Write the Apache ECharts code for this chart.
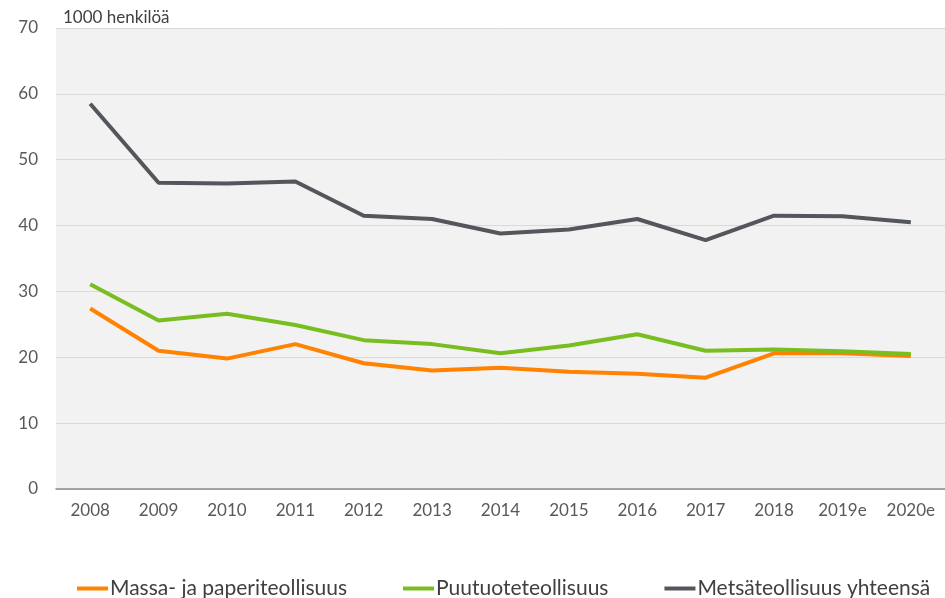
<!DOCTYPE html>
<html>
<head>
<meta charset="utf-8">
<script src="https://cdn.jsdelivr.net/npm/echarts@6/dist/echarts.min.js"></script>
<style>
  html, body { margin: 0; padding: 0; background: #fff; }
  #chart { width: 945px; height: 598px; }
</style>
</head>
<body>
<div id="chart"></div>
<script>
const years = ['2008', '2009', '2010', '2011', '2012', '2013', '2014', '2015', '2016', '2017', '2018', '2019e', '2020e'];
const massaPaperi = [27.4, 21.0, 19.8, 22.0, 19.1, 18.0, 18.4, 17.8, 17.5, 16.9, 20.6, 20.6, 20.2];
const puutuote = [31.1, 25.6, 26.6, 24.9, 22.6, 22.0, 20.6, 21.8, 23.5, 21.0, 21.2, 20.9, 20.5];
const metsaYht = [58.5, 46.5, 46.4, 46.7, 41.5, 41.0, 38.8, 39.4, 41.0, 37.8, 41.5, 41.4, 40.5];

const font = 'Lato, "Open Sans", sans-serif';
const chart = echarts.init(document.getElementById('chart'));

function line(name, data, color) {
  return {
    name: name,
    type: 'line',
    data: data,
    symbol: 'none',
    lineStyle: { color: color, width: 4 },
    itemStyle: { color: color }
  };
}

chart.setOption({
  animation: false,
  textStyle: { fontFamily: font },
  title: {
    text: '1000 henkilöä',
    left: 58,
    top: 4,
    textStyle: { fontSize: 17, fontWeight: 'normal', color: '#404040', fontFamily: font }
  },
  grid: {
    left: 56, right: 0, top: 28, bottom: 109,
    show: true, backgroundColor: '#f2f2f2', borderWidth: 0
  },
  legend: {
    top: 573,
    left: 72,
    icon: 'rect',
    itemWidth: 31,
    itemHeight: 4,
    itemGap: 56,
    textStyle: { fontSize: 21, color: '#404040', fontFamily: font, padding: [0, 0, 0, -3] },
    data: ['Massa- ja paperiteollisuus', 'Puutuoteteollisuus', 'Metsäteollisuus yhteensä']
  },
  xAxis: {
    type: 'category',
    data: years,
    boundaryGap: true,
    axisLine: { lineStyle: { color: '#8c8c8c', width: 1.5 } },
    axisTick: { show: false },
    axisLabel: { fontSize: 17, color: '#595959', margin: 13 }
  },
  yAxis: {
    type: 'value',
    min: 0,
    max: 70,
    interval: 10,
    axisLine: { show: false },
    axisTick: { show: false },
    axisLabel: { fontSize: 17, color: '#595959', margin: 18 },
    splitLine: { lineStyle: { color: '#d9d9d9', width: 1 } }
  },
  series: [
    line('Massa- ja paperiteollisuus', massaPaperi, '#ff8200'),
    line('Puutuoteteollisuus', puutuote, '#78be20'),
    line('Metsäteollisuus yhteensä', metsaYht, '#53565a')
  ]
});
</script>
</body>
</html>
